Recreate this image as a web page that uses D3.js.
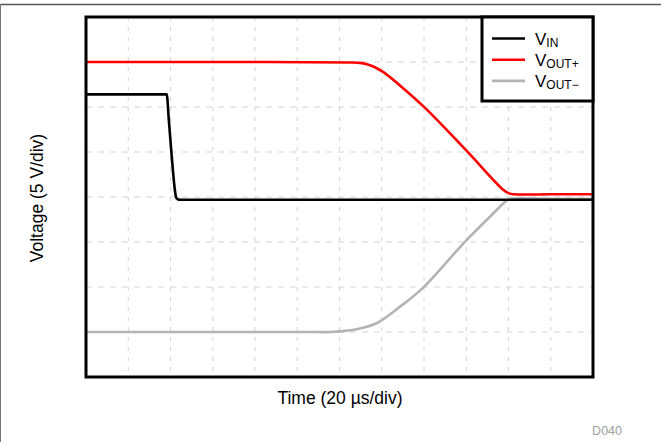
<!DOCTYPE html>
<html><head><meta charset="utf-8">
<script src="https://cdn.jsdelivr.net/npm/d3@7"></script>
<style>body{margin:0;background:#fff}svg{display:block;font-family:"Liberation Sans",Arial,sans-serif}</style>
</head><body>
<svg id="c" width="661" height="442"></svg>
<script>
// Time in µs (20 µs/div, 12 div), Voltage in V (5 V/div, 8 div)
const xDomain = [0, 240];
const yDomain = [-20, 20];
const xGrid = [20,40,60,80,100,120,140,160,180,200,220];
const yGrid = [-15,-10,-5,0,5,10,15];

const vinT = [0, 38.2, 39.2, 40.2, 41.2, 42.0, 42.6, 43.4, 44.5, 240];
const vinV = [11.4, 11.4, 8.6, 5.6, 2.8, 0.9, 0.0, -0.25, -0.3, -0.3];

const voutPT = [0, 60, 125, 129.7, 133.0, 136.5, 140.6, 148.6, 160.5, 179.9, 197.5, 200.2, 202.5, 220, 240];
const voutPV = [15.0, 15.0, 14.95, 14.9, 14.75, 14.45, 13.9, 12.4, 9.9, 5.2, 0.8, 0.4, 0.3, 0.3, 0.3];

const voutNT = [0, 60, 105, 115.5, 121.7, 129.7, 137.8, 148.6, 159.5, 178.5, 191.2, 199.5, 201.5, 220, 240];
const voutNV = [-15.0, -15.0, -15.0, -15.0, -14.9, -14.6, -14.0, -12.2, -10.1, -5.2, -2.2, -0.35, -0.2, -0.2, -0.2];

const series = [
  {name:"IN", t:vinT, v:vinV, color:"#000000", curve:d3.curveMonotoneX},
  {name:"OUT+", t:voutPT, v:voutPV, color:"#ff0000", curve:d3.curveCatmullRom.alpha(0.5)},
  {name:"OUT\u2212", t:voutNT, v:voutNV, color:"#b4b4b4", curve:d3.curveCatmullRom.alpha(0.5)}
];

const svg = d3.select("#c");
const L = 86, R = 593, T = 17, B = 377;
const x = d3.scaleLinear().domain(xDomain).range([L, R]);
const y = d3.scaleLinear().domain(yDomain).range([B, T]);

// outer frame lines
svg.append("line").attr("x1",0).attr("x2",661).attr("y1",4.5).attr("y2",4.5).attr("stroke","#555").attr("stroke-width",1.5);
svg.append("line").attr("x1",0.5).attr("x2",0.5).attr("y1",4).attr("y2",442).attr("stroke","#777").attr("stroke-width",1);

// grid
const g = svg.append("g");
g.selectAll(".vg").data(xGrid).join("line")
  .attr("x1",d=>x(d)).attr("x2",d=>x(d)).attr("y1",T).attr("y2",B)
  .attr("stroke","#d4d4d4").attr("stroke-width",1).attr("stroke-dasharray","4,6");
g.selectAll(".hg").data(yGrid).join("line")
  .attr("x1",L).attr("x2",R).attr("y1",d=>y(d)).attr("y2",d=>y(d))
  .attr("stroke","#d4d4d4").attr("stroke-width",1).attr("stroke-dasharray","6,6");

// series
[series[2], series[1], series[0]].forEach(s=>{
  const line = d3.line().x(d=>x(d[0])).y(d=>y(d[1])).curve(s.curve);
  svg.append("path").datum(d3.zip(s.t, s.v)).attr("d", line)
    .attr("fill","none").attr("stroke", s.color).attr("stroke-width",2.6)
    .attr("stroke-linejoin","round");
});

// plot frame
svg.append("rect").attr("x",L).attr("y",T).attr("width",R-L).attr("height",B-T)
  .attr("fill","none").attr("stroke","#000").attr("stroke-width",3);

// legend
const lg = svg.append("g");
lg.append("rect").attr("x",482).attr("y",T).attr("width",R-482).attr("height",84)
  .attr("fill","#fff").attr("stroke","#000").attr("stroke-width",3);
series.forEach((s,i)=>{
  const yy = 38.5 + i*21.2;
  lg.append("line").attr("x1",492).attr("x2",525).attr("y1",yy).attr("y2",yy)
    .attr("stroke",s.color).attr("stroke-width",2.6);
  const t = lg.append("text").attr("x",535).attr("y",yy+6).attr("font-size",17).attr("fill","#000");
  t.append("tspan").text("V");
  t.append("tspan").attr("font-size",12).attr("dy",2).text(s.name);
});

// axis titles
svg.append("text").attr("x",340).attr("y",404).attr("text-anchor","middle")
  .attr("font-size",17.5).attr("fill","#000").text("Time (20 \u00b5s/div)");
svg.append("text").attr("transform",`translate(43,198) rotate(-90)`).attr("text-anchor","middle")
  .attr("font-size",17.5).attr("fill","#000").text("Voltage (5 V/div)");
svg.append("text").attr("x",622).attr("y",435).attr("text-anchor","end")
  .attr("font-size",12.5).attr("fill","#a0a0a0").text("D040");
</script>
</body></html>
